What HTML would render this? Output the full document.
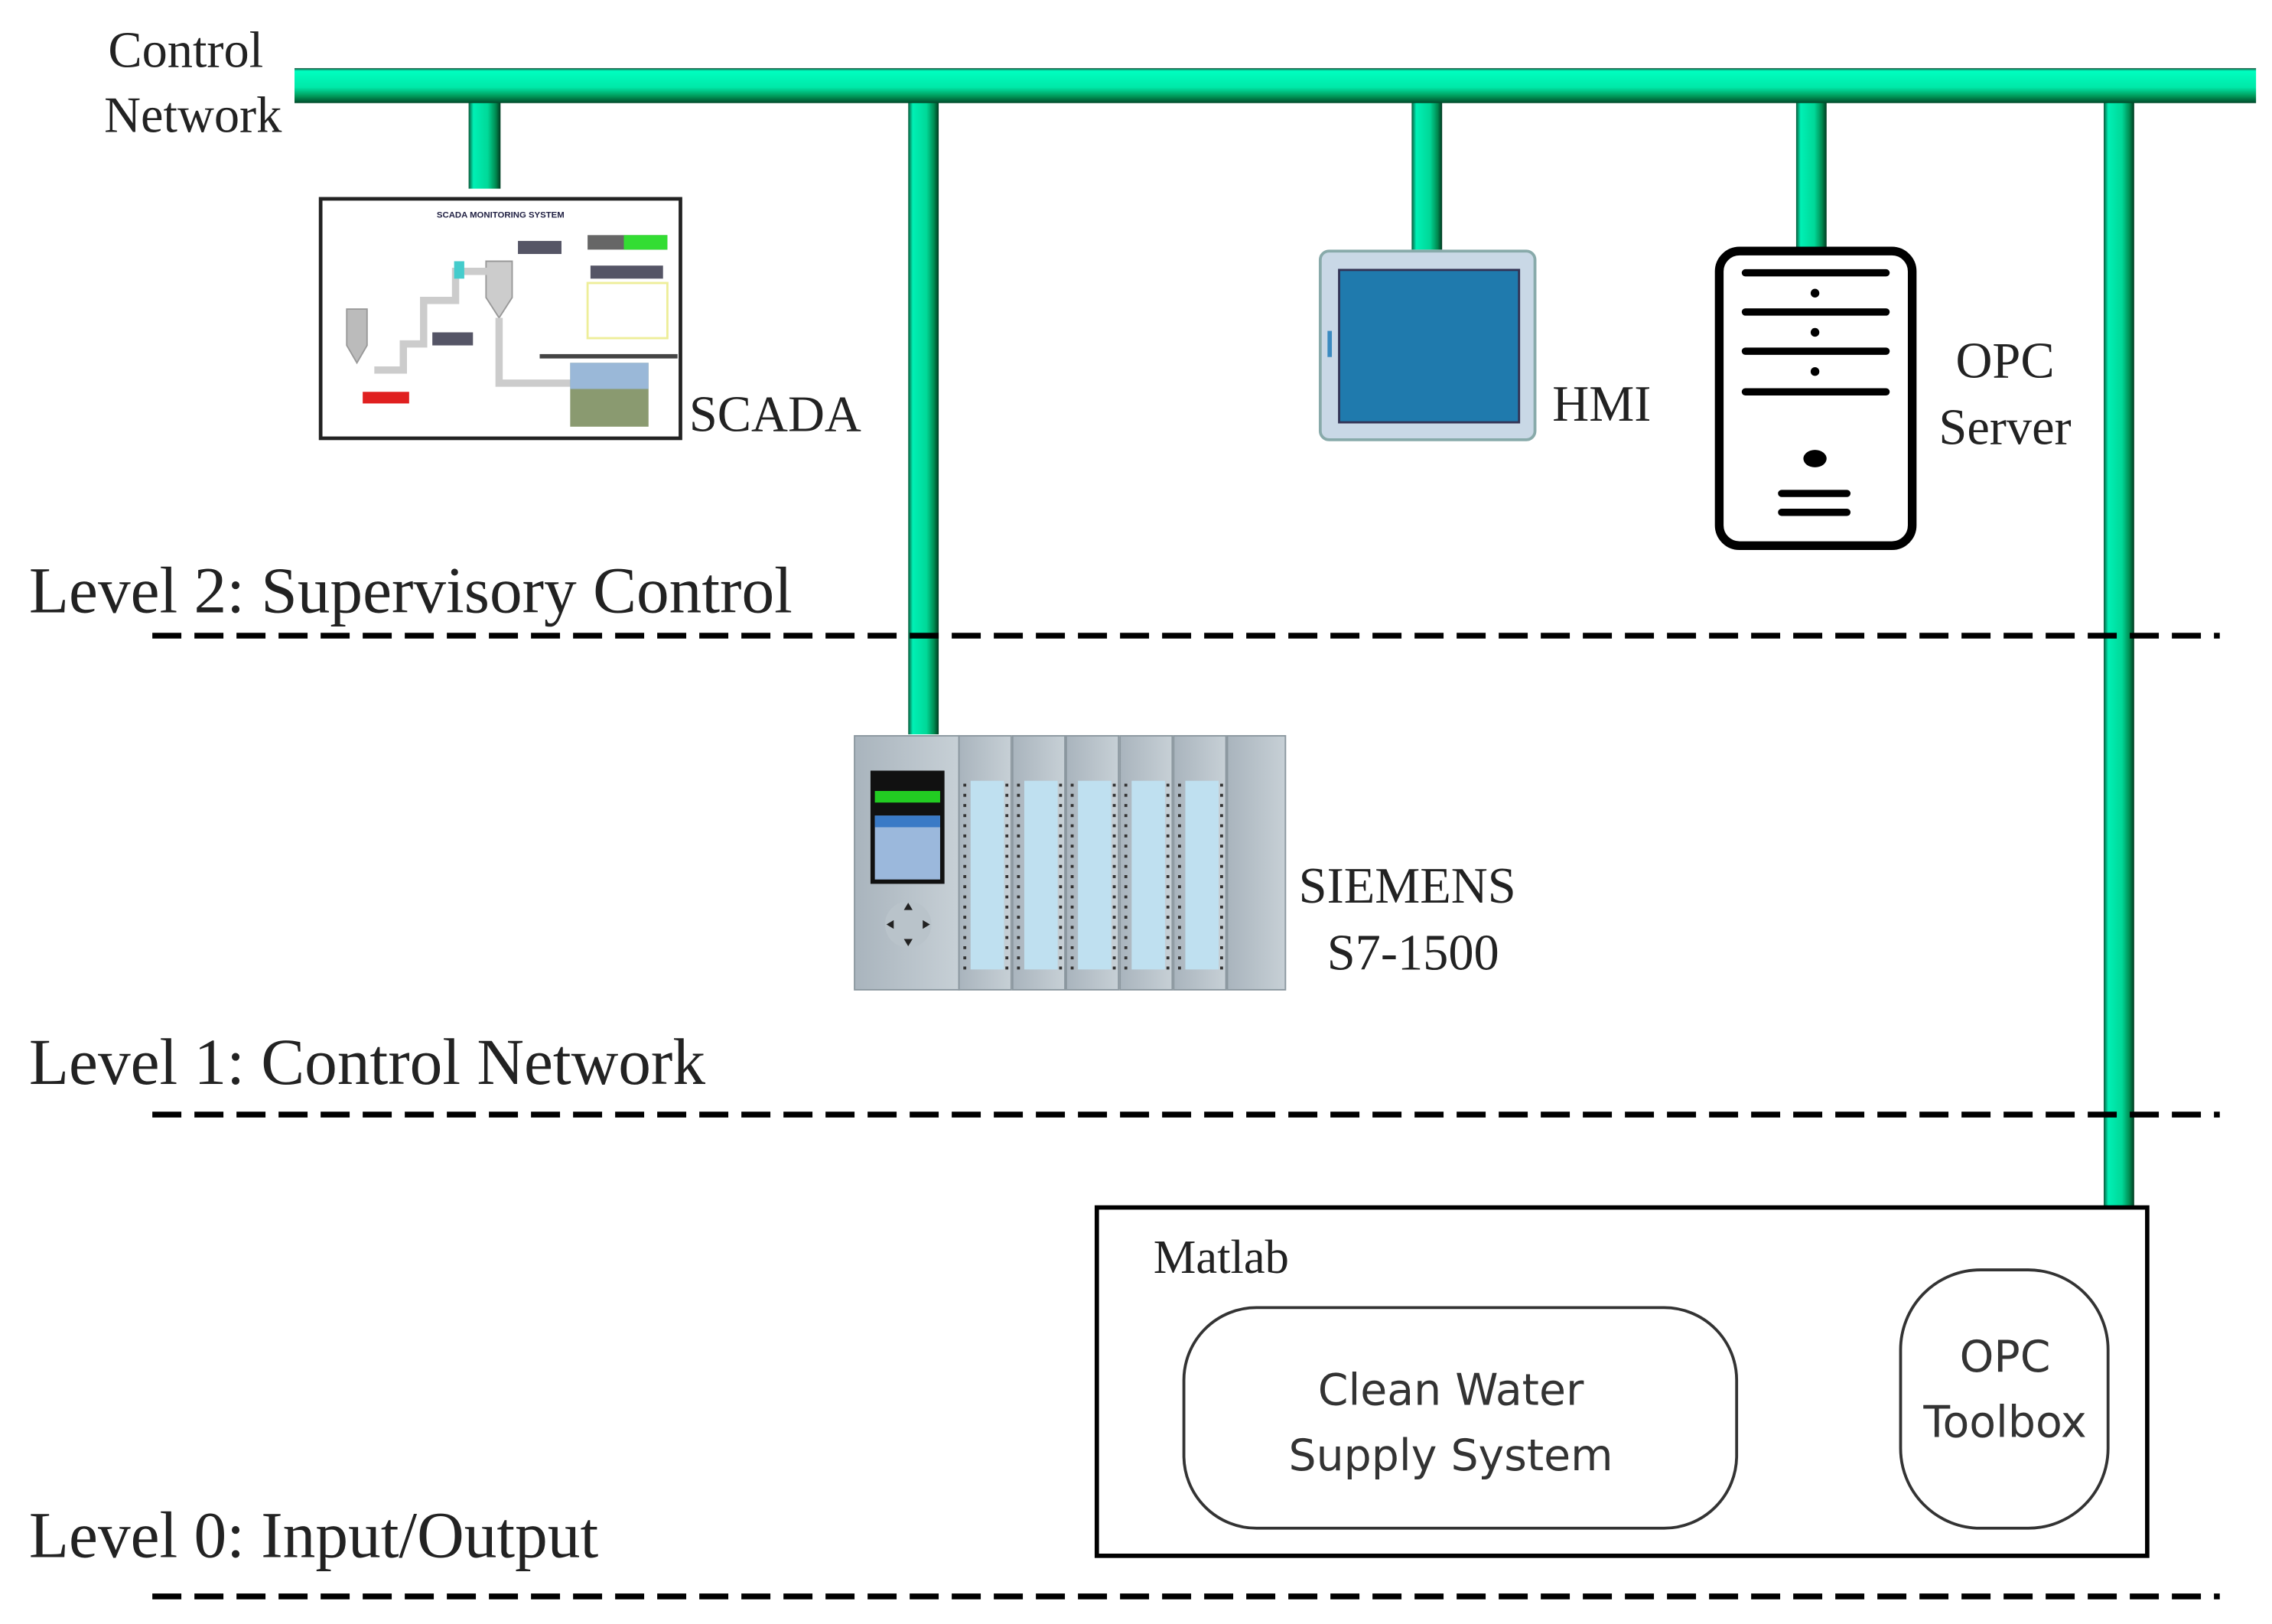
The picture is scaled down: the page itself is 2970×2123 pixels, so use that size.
<!DOCTYPE html>
<html><head><meta charset="utf-8">
<style>
html,body{margin:0;padding:0;background:#fff;}
svg{display:block;}
.serif{font-family:"Liberation Serif",serif;fill:#222;}
.sans{font-family:"DejaVu Sans","Liberation Sans",sans-serif;fill:#333;}
</style></head>
<body>
<svg width="2970" height="2123" viewBox="0 0 1566 1119" preserveAspectRatio="none" xmlns="http://www.w3.org/2000/svg">
<defs>
<linearGradient id="busH" x1="0" y1="0" x2="0" y2="1">
<stop offset="0" stop-color="#1a4a35"/><stop offset="0.08" stop-color="#00ffc0"/><stop offset="0.55" stop-color="#00e8a8"/><stop offset="0.8" stop-color="#00995a"/><stop offset="1" stop-color="#004a2a"/>
</linearGradient>
<linearGradient id="busV" x1="0" y1="0" x2="1" y2="0">
<stop offset="0" stop-color="#0a5a3a"/><stop offset="0.15" stop-color="#00f0b5"/><stop offset="0.6" stop-color="#00d898"/><stop offset="0.85" stop-color="#008a50"/><stop offset="1" stop-color="#003a20"/>
</linearGradient>
<linearGradient id="grey" x1="0" y1="0" x2="1" y2="0">
<stop offset="0" stop-color="#a9b4bd"/><stop offset="1" stop-color="#c7d0d6"/>
</linearGradient>
</defs>

<rect x="323" y="66" width="22" height="64" fill="url(#busV)"/>
<rect x="626" y="66" width="21" height="440" fill="url(#busV)"/>
<rect x="973" y="66" width="21" height="106" fill="url(#busV)"/>
<rect x="1238" y="66" width="21" height="106" fill="url(#busV)"/>
<rect x="1450" y="66" width="21" height="766" fill="url(#busV)"/>
<polygon points="203,47 1555,47 1555,71 203,71" fill="url(#busH)"/>

<text class="serif" x="128" y="46" font-size="35" text-anchor="middle">Control</text>
<text class="serif" x="133" y="91" font-size="35" text-anchor="middle">Network</text>

<rect x="221" y="137" width="248" height="165" fill="#fff" stroke="#222" stroke-width="2.5"/>
<text x="345" y="150" font-size="6" font-family="Liberation Sans,sans-serif" text-anchor="middle" fill="#224" font-weight="bold">SCADA MONITORING SYSTEM</text>
<path d="M239 213 h14 v25 l-7 12 l-7 -12z" fill="#bbb" stroke="#999"/>
<path d="M335 180 h18 v25 l-9 14 l-9 -14z" fill="#ccc" stroke="#999"/>
<path d="M258 255 h20 v-18 h14 v-30 h22 v-20 h25 M344 219 v45 h50" fill="none" stroke="#ccc" stroke-width="5"/>
<rect x="313" y="180" width="7" height="12" fill="#4cc"/>
<rect x="250" y="270" width="32" height="8" fill="#e02020"/>
<rect x="298" y="229" width="28" height="9" fill="#556"/>
<rect x="357" y="166" width="30" height="9" fill="#556"/>
<rect x="405" y="162" width="55" height="10" fill="#666"/><rect x="430" y="162" width="30" height="10" fill="#3d3"/>
<rect x="407" y="183" width="50" height="9" fill="#556"/>
<rect x="405" y="195" width="55" height="38" fill="#fff" stroke="#ee9" stroke-width="1.5"/>
<rect x="372" y="244" width="95" height="3" fill="#444"/>
<rect x="393" y="250" width="54" height="44" fill="#8a9a70"/>
<rect x="393" y="250" width="54" height="18" fill="#9ab8d8"/>
<text class="serif" x="475" y="297" font-size="35">SCADA</text>

<rect x="910" y="173" width="148" height="130" rx="6" fill="#c9d8e6" stroke="#8aa" stroke-width="2"/>
<rect x="923" y="186" width="124" height="105" fill="#1f7aad" stroke="#335" stroke-width="1.5"/>
<rect x="915" y="228" width="3" height="18" fill="#3a8ac0"/>
<text class="serif" x="1070" y="290" font-size="35">HMI</text>

<rect x="1185" y="173" width="133" height="203" rx="14" fill="#fff" stroke="#000" stroke-width="6"/>
<g stroke="#000" stroke-width="5" stroke-linecap="round">
<line x1="1203" y1="188" x2="1300" y2="188"/>
<line x1="1203" y1="215" x2="1300" y2="215"/>
<line x1="1203" y1="242" x2="1300" y2="242"/>
<line x1="1203" y1="270" x2="1300" y2="270"/>
<line x1="1228" y1="340" x2="1273" y2="340"/>
<line x1="1228" y1="353" x2="1273" y2="353"/>
</g>
<circle cx="1251" cy="202" r="3" fill="#000"/><circle cx="1251" cy="229" r="3" fill="#000"/><circle cx="1251" cy="256" r="3" fill="#000"/>
<ellipse cx="1251" cy="316" rx="8" ry="6" fill="#000"/>
<text class="serif" x="1382" y="260" font-size="35" text-anchor="middle">OPC</text>
<text class="serif" x="1382" y="306" font-size="35" text-anchor="middle">Server</text>

<text class="serif" x="20" y="422" font-size="45">Level 2: Supervisory Control</text>
<line x1="105" y1="438" x2="1530" y2="438" stroke="#000" stroke-width="4" stroke-dasharray="20,9"/>

<g>
<rect x="589" y="507" width="72" height="175" fill="url(#grey)" stroke="#8b979f"/>
<rect x="600" y="531" width="51" height="78" fill="#111"/>
<rect x="603" y="545" width="45" height="8" fill="#2c2"/>
<rect x="603" y="562" width="45" height="44" fill="#9bb8dc"/>
<rect x="603" y="562" width="45" height="8" fill="#3a7ac6"/>
<circle cx="626" cy="637" r="16" fill="#b9c3ca"/>
<path d="M626 622 l-3 5 h6z M626 652 l-3 -5 h6z M611 637 l5 -3 v6z M641 637 l-5 -3 v6z" fill="#222"/>
<g id="mod">
<rect x="661" y="507" width="36" height="175" fill="url(#grey)" stroke="#8b979f"/>
<rect x="669" y="538" width="23" height="130" fill="#bfe0f0"/>
<line x1="665" y1="540" x2="665" y2="668" stroke="#333" stroke-width="2" stroke-dasharray="2,5"/>
<line x1="694" y1="540" x2="694" y2="668" stroke="#333" stroke-width="2" stroke-dasharray="2,5"/>
</g>
<use href="#mod" x="37"/><use href="#mod" x="74"/><use href="#mod" x="111"/><use href="#mod" x="148"/>
<rect x="846" y="507" width="40" height="175" fill="url(#grey)" stroke="#8b979f"/>
</g>
<text class="serif" x="970" y="622" font-size="35" text-anchor="middle">SIEMENS</text>
<text class="serif" x="974" y="668" font-size="35" text-anchor="middle">S7-1500</text>

<text class="serif" x="20" y="747" font-size="45">Level 1: Control Network</text>
<line x1="105" y1="768" x2="1530" y2="768" stroke="#000" stroke-width="4" stroke-dasharray="20,9"/>

<rect x="756" y="832" width="724" height="240" fill="#fff" stroke="#000" stroke-width="3"/>
<text class="serif" x="795" y="877" font-size="33">Matlab</text>
<rect x="816" y="901" width="381" height="152" rx="50" fill="none" stroke="#333" stroke-width="2"/>
<text class="sans" x="1000" y="968" font-size="30" text-anchor="middle">Clean Water</text>
<text class="sans" x="1000" y="1013" font-size="30" text-anchor="middle">Supply System</text>
<rect x="1310" y="875" width="143" height="178" rx="55" fill="none" stroke="#333" stroke-width="2"/>
<text class="sans" x="1382" y="945" font-size="30" text-anchor="middle">OPC</text>
<text class="sans" x="1382" y="990" font-size="30" text-anchor="middle">Toolbox</text>

<text class="serif" x="20" y="1073" font-size="45">Level 0: Input/Output</text>
<line x1="105" y1="1100" x2="1530" y2="1100" stroke="#000" stroke-width="4" stroke-dasharray="20,9"/>
</svg>
</body></html>
